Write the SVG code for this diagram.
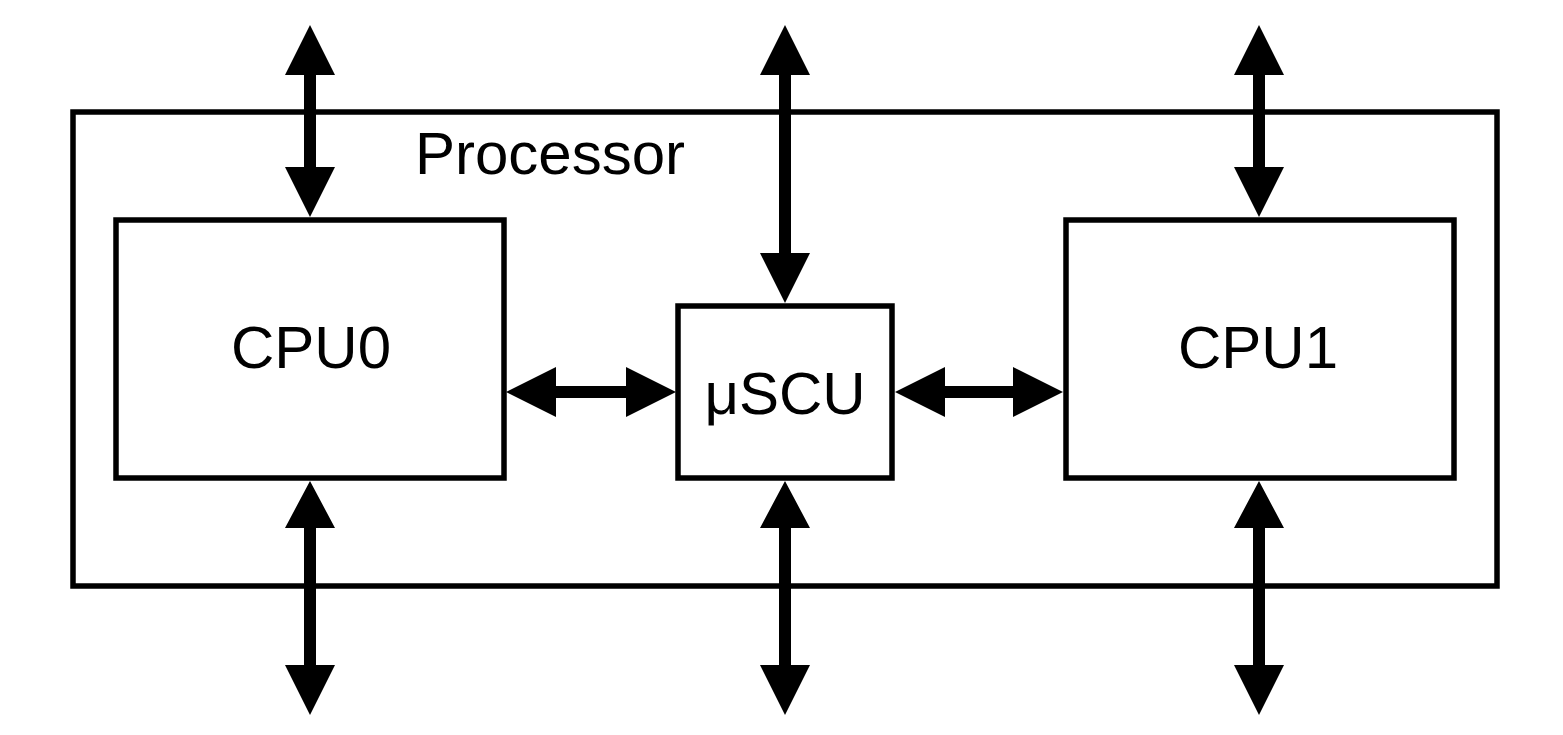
<svg xmlns="http://www.w3.org/2000/svg" width="1563" height="735" viewBox="0 0 1563 735">
<style>
.box{fill:none;stroke:#000;stroke-width:5.5}
.arr{fill:#000;stroke:none}
text{font-family:"Liberation Sans",Arial,sans-serif;font-size:60px;fill:#000;text-anchor:middle}
</style>
<rect width="1563" height="735" fill="#fff"/>
<g id="processor">
<rect class="box" x="73" y="112" width="1424" height="474"/>
<text x="550" y="174">Processor</text>
</g>
<g id="cpu0">
<rect class="box" x="116" y="220" width="388" height="258"/>
<text x="311" y="368">CPU0</text>
</g>
<g id="uscu">
<rect class="box" x="678" y="306" width="214" height="172"/>
<text x="785" y="414">μSCU</text>
</g>
<g id="cpu1">
<rect class="box" x="1066" y="220" width="388" height="258"/>
<text x="1258" y="368">CPU1</text>
</g>
<g id="connectors">
<polygon class="arr" points="310,25 335,75 316,75 316,167 335,167 310,217 285,167 304,167 304,75 285,75"/>
<polygon class="arr" points="785,25 810,75 791,75 791,253 810,253 785,303 760,253 779,253 779,75 760,75"/>
<polygon class="arr" points="1259,25 1284,75 1265,75 1265,167 1284,167 1259,217 1234,167 1253,167 1253,75 1234,75"/>
<polygon class="arr" points="310,481 335,528 316,528 316,665 335,665 310,715 285,665 304,665 304,528 285,528"/>
<polygon class="arr" points="785,481 810,528 791,528 791,665 810,665 785,715 760,665 779,665 779,528 760,528"/>
<polygon class="arr" points="1259,481 1284,528 1265,528 1265,665 1284,665 1259,715 1234,665 1253,665 1253,528 1234,528"/>
<polygon class="arr" points="506,392 556,367 556,386 626,386 626,367 676,392 626,417 626,398 556,398 556,417"/>
<polygon class="arr" points="895,392 945,367 945,386 1013,386 1013,367 1063,392 1013,417 1013,398 945,398 945,417"/>
</g>
</svg>
